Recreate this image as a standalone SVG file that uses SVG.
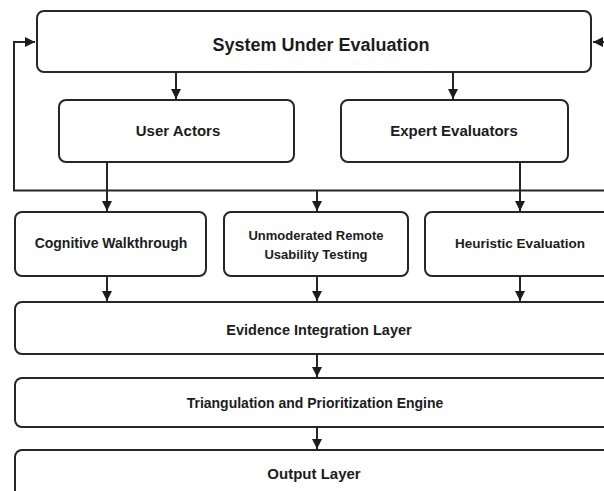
<svg xmlns="http://www.w3.org/2000/svg" width="604" height="491" viewBox="0 0 604 491">
  <style>
    .box { fill: #ffffff; stroke: #262626; stroke-width: 2; }
    .lbl { font-family: "Liberation Sans", Arial, sans-serif; font-weight: bold; fill: #1c1c1c; text-anchor: middle; }
    .wire { fill: none; stroke: #262626; stroke-width: 2; }
  </style>
  <defs>
    <marker id="arrow" viewBox="0 0 10 10" refX="10" refY="5" markerWidth="5" markerHeight="5" markerUnits="strokeWidth" orient="auto">
      <path d="M0,0 L10,5 L0,10 z" fill="#1c1c1c"/>
    </marker>
  </defs>
  <rect width="604" height="491" fill="#ffffff"/>

  <!-- connectors -->
  <g id="connectors">
    <!-- feedback bus -->
    <path class="wire" d="M604,190.5 L14,190.5 L14,42 L35,42" marker-end="url(#arrow)"/>
    <path class="wire" d="M604,42 L593,42" marker-end="url(#arrow)"/>
    <!-- system to actors -->
    <path class="wire" d="M176,72 L176,99" marker-end="url(#arrow)"/>
    <path class="wire" d="M453,72 L453,99" marker-end="url(#arrow)"/>
    <!-- actors to methods -->
    <path class="wire" d="M107,162 L107,211" marker-end="url(#arrow)"/>
    <path class="wire" d="M317,190.5 L317,211" marker-end="url(#arrow)"/>
    <path class="wire" d="M520,162 L520,211" marker-end="url(#arrow)"/>
    <!-- methods to evidence layer -->
    <path class="wire" d="M107,276 L107,301" marker-end="url(#arrow)"/>
    <path class="wire" d="M317,276 L317,301" marker-end="url(#arrow)"/>
    <path class="wire" d="M520,276 L520,301" marker-end="url(#arrow)"/>
    <!-- pipeline -->
    <path class="wire" d="M317,354 L317,377" marker-end="url(#arrow)"/>
    <path class="wire" d="M317,427 L317,449" marker-end="url(#arrow)"/>
  </g>

  <g id="system">
    <rect class="box" x="37" y="11" width="554" height="61" rx="7"/>
    <text class="lbl" x="321" y="51" font-size="18">System Under Evaluation</text>
  </g>

  <g id="user-actors">
    <rect class="box" x="59" y="100" width="235" height="62" rx="7"/>
    <text class="lbl" x="178" y="136" font-size="15">User Actors</text>
  </g>

  <g id="expert-evaluators">
    <rect class="box" x="341" y="100" width="227" height="62" rx="7"/>
    <text class="lbl" x="454" y="136" font-size="15">Expert Evaluators</text>
  </g>

  <g id="cognitive-walkthrough">
    <rect class="box" x="15" y="212" width="191" height="64" rx="7"/>
    <text class="lbl" x="111" y="248" font-size="14">Cognitive Walkthrough</text>
  </g>

  <g id="remote-testing">
    <rect class="box" x="224" y="212" width="184" height="64" rx="7"/>
    <text class="lbl" x="316" y="240" font-size="13">Unmoderated Remote</text>
    <text class="lbl" x="316" y="259" font-size="13">Usability Testing</text>
  </g>

  <g id="heuristic-evaluation">
    <rect class="box" x="425" y="212" width="190" height="64" rx="7"/>
    <text class="lbl" x="520" y="248" font-size="13.5">Heuristic Evaluation</text>
  </g>

  <g id="evidence-integration">
    <rect class="box" x="15" y="302" width="600" height="52" rx="7"/>
    <text class="lbl" x="319" y="335" font-size="14.5">Evidence Integration Layer</text>
  </g>

  <g id="triangulation">
    <rect class="box" x="15" y="378" width="600" height="49" rx="7"/>
    <text class="lbl" x="315" y="408" font-size="14">Triangulation and Prioritization Engine</text>
  </g>

  <g id="output-layer">
    <rect class="box" x="15" y="450" width="600" height="60" rx="7"/>
    <text class="lbl" x="314" y="479" font-size="15">Output Layer</text>
  </g>
</svg>
